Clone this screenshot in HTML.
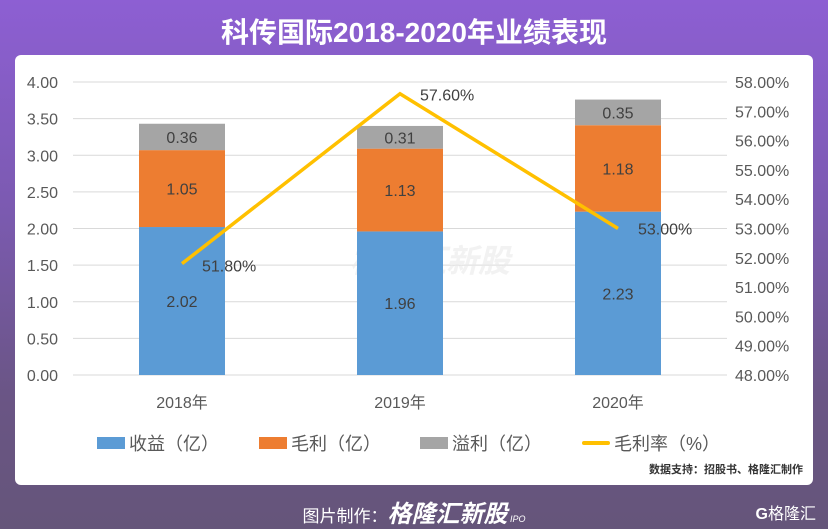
<!DOCTYPE html>
<html><head><meta charset="utf-8"><style>
body{margin:0;width:828px;height:529px;overflow:hidden;font-family:"Liberation Sans","Noto Sans CJK SC",sans-serif;}
#bg{position:absolute;left:0;top:0;width:828px;height:529px;background:linear-gradient(180deg,#8d5fd3 0%,#7b5ab0 40%,#6a5585 75%,#65557a 100%);}
#title{position:absolute;top:11px;width:828px;text-align:center;color:#fff;font-size:28px;font-weight:bold;}
#card{position:absolute;left:15px;top:55px;width:798px;height:430px;background:#fff;border-radius:6px;}
#foot{position:absolute;top:494px;left:0;width:828px;text-align:center;color:#fff;font-size:17px;}
#logo{position:absolute;right:12px;top:500px;color:#fff;font-size:16px;}
</style></head><body>
<div id="bg"></div>
<div id="title">科传国际2018-2020年业绩表现</div>
<div id="card"></div>
<svg id="chart" width="828" height="529" style="position:absolute;left:0;top:0"></svg>
<div id="foot">图片制作：<b style="font-size:24px;font-style:italic">格隆汇新股</b><span style="font-size:9px;font-style:italic"> IPO</span></div>
<div id="logo"><b>G</b>格隆汇</div>
<script>
const categories=["2018年","2019年","2020年"];
const revenue=[2.02,1.96,2.23];
const grossProfit=[1.05,1.13,1.18];
const overflowProfit=[0.36,0.31,0.35];
const margin=[51.80,57.60,53.00];
const leftTicks=[0,0.5,1,1.5,2,2.5,3,3.5,4];
const rightTicks=[48,49,50,51,52,53,54,55,56,57,58];
const svg=document.getElementById('chart');
const NS='http://www.w3.org/2000/svg';
const y0=375,y1=82,x0=73,x1=727;
const yL=v=>y0-(v/4)*(y0-y1);
const yR=v=>y0-((v-48)/10)*(y0-y1);
const xC=i=>x0+(x1-x0)*(i+0.5)/categories.length;
function mk(t,a,txt){const e=document.createElementNS(NS,t);for(const k in a)e.setAttribute(k,a[k]);if(txt!==undefined)e.textContent=txt;svg.appendChild(e);return e;}
leftTicks.forEach(v=>{
 const g=mk('line',{x1:x0,x2:x1,y1:yL(v),y2:yL(v),stroke:'#d9d9d9','stroke-width':1});
 
 
 const t=mk('text',{x:58,y:yL(v)+6,'text-anchor':'end','font-size':16,fill:'#595959'},v.toFixed(2));
 
 
});
rightTicks.forEach(v=>{
 const t=mk('text',{x:735,y:yR(v)+6,'font-size':16,fill:'#595959'},v.toFixed(2)+'%');
 
 
});
const w=mk('text',{x:430,y:272,'text-anchor':'middle','font-size':32,'font-weight':'bold','font-style':'italic',fill:'#e9e9e9','fill-opacity':0.6},'格隆汇新股');


const bw=86;
categories.forEach((c,i)=>{
 const cx=xC(i);
 const segs=[[revenue[i],0,'#5b9bd5','bar-revenue'],[grossProfit[i],revenue[i],'#ed7d31','bar-gross-profit'],[overflowProfit[i],revenue[i]+grossProfit[i],'#a5a5a5','bar-overflow-profit']];
 segs.forEach(([v,b,col,nm])=>{
  const r=mk('rect',{x:cx-bw/2,y:yL(b+v),width:bw,height:yL(b)-yL(b+v),fill:col});
  
  
  const t=mk('text',{x:cx,y:(yL(b)+yL(b+v))/2+6,'text-anchor':'middle','font-size':16,fill:'#404040'},v.toFixed(2));
  
  
 });
 const t=mk('text',{x:cx,y:408,'text-anchor':'middle','font-size':16,fill:'#595959'},c);
 
 
});
const pl=mk('polyline',{points:margin.map((m,i)=>xC(i)+','+yR(m)).join(' '),fill:'none',stroke:'#ffc000','stroke-width':3.5});


margin.forEach((m,i)=>{
 const t=mk('text',{x:xC(i)+20,y:yR(m)+(i==0?8:i==1?7:6),'font-size':16,fill:'#404040'},m.toFixed(2)+'%');
 
 
});
const leg=[['rect','#5b9bd5','收益（亿）',97],['rect','#ed7d31','毛利（亿）',259],['rect','#a5a5a5','溢利（亿）',420],['line','#ffc000','毛利率（%）',582]];
leg.forEach(([k,col,txt,x])=>{
 let m;
 if(k=='rect')m=mk('rect',{x:x,y:437,width:28,height:12,fill:col});
 else m=mk('rect',{x:x,y:441,width:28,height:4,fill:col,rx:2});
 
 
 const t=mk('text',{x:x+32,y:450,'font-size':18,fill:'#595959'},txt);
 
 
});
const s=mk('text',{x:803,y:473,'text-anchor':'end','font-size':11,'font-weight':'bold',fill:'#333'},'数据支持：招股书、格隆汇制作');


</script>
</body></html>
